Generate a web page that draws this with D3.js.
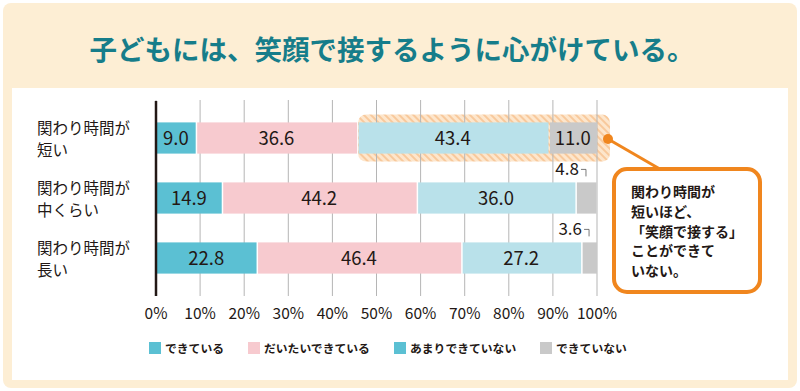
<!DOCTYPE html>
<html><head><meta charset="utf-8">
<script src="https://cdn.jsdelivr.net/npm/d3@7"></script>
<style>body{margin:0;background:#fff;}svg{display:block;font-family:"Noto Sans CJK JP","Noto Sans",sans-serif;}</style>
</head><body>
<script>
const title = "子どもには、笑顔で接するように心がけている。";
const categories = [["関わり時間が","短い"],["関わり時間が","中くらい"],["関わり時間が","長い"]];
const seriesNames = ["できている","だいたいできている","あまりできていない","できていない"];
const seriesColors = ["#5bc0d3","#f7cacf","#b9e1ea","#c9c9c9"];
const legendColors = ["#5bc0d3","#f7cacf","#5bc0d3","#c9c9c9"];
const values = [
  [9.0, 36.6, 43.4, 11.0],
  [14.9, 44.2, 36.0, 4.8],
  [22.8, 46.4, 27.2, 3.6]
];
const ticks = [0,10,20,30,40,50,60,70,80,90,100];
const calloutLines = ["関わり時間が","短いほど、","「笑顔で接する」","ことができて","いない。"];

const W=800,H=391;
const svg=d3.select("body").append("svg").attr("width",W).attr("height",H);
const defs=svg.append("defs");
const pat=defs.append("pattern").attr("id","hatch").attr("patternUnits","userSpaceOnUse").attr("width",5).attr("height",5).attr("patternTransform","rotate(-45)");
pat.append("rect").attr("width",5).attr("height",5).attr("fill","#fde6cc");
pat.append("rect").attr("width",2).attr("height",5).attr("fill","#f8c99c");

svg.append("rect").attr("x",3).attr("y",3).attr("width",794).attr("height",385).attr("rx",8).attr("fill","#fdeed4");
svg.append("rect").attr("x",12).attr("y",88).attr("width",776).attr("height",292).attr("fill","#fff");
svg.append("text").attr("x",392).attr("y",60).attr("text-anchor","middle").attr("font-size",27.5).attr("font-weight",700).attr("fill","#167d8a").text(title);

const x=d3.scaleLinear().domain([0,100]).range([156,597]);
const y=d3.scaleBand().domain(d3.range(categories.length)).range([108,288]).paddingInner(0.48).paddingOuter(0.24);

// highlight band behind row 0 last two segments
const s0=values[0][0]+values[0][1];
svg.append("rect").attr("x",x(s0)+1).attr("y",y(0)-8).attr("width",x(100)-x(s0)+12).attr("height",y.bandwidth()+16).attr("rx",8).attr("fill","url(#hatch)");

// gridlines
svg.append("g").selectAll("line").data(ticks).join("line")
  .attr("x1",d=>x(d)).attr("x2",d=>x(d)).attr("y1",100).attr("y2",296)
  .attr("stroke","#b5b5b5").attr("stroke-width",1);

// bars
const rows=svg.append("g").selectAll("g").data(values).join("g");
rows.each(function(row,i){
  let acc=0;
  const segs=row.map((v,j)=>{const s={v,j,x0:acc};acc+=v;return s;});
  const g=d3.select(this);
  g.selectAll("rect").data(segs).join("rect")
    .attr("x",d=>x(d.x0)+(d.j>0?1.5:0)).attr("y",y(i))
    .attr("width",d=>x(d.x0+d.v)-x(d.x0)-(d.j>0?1.5:0)).attr("height",y.bandwidth())
    .attr("fill",d=>seriesColors[d.j]);
  g.selectAll("text.v").data(segs.filter(d=>d.v>=8)).join("text").attr("class","v")
    .attr("x",d=>x(d.x0+d.v/2)).attr("y",y(i)+y.bandwidth()/2+6.5)
    .attr("text-anchor","middle").attr("font-size",18.5).attr("fill","#231815").text(d=>d.v.toFixed(1));
  segs.filter(d=>d.v<8).forEach(d=>{
    const cx=x(d.x0+d.v/2);
    g.append("text").attr("x",cx-7).attr("y",y(i)-7).attr("text-anchor","end").attr("font-size",17).attr("fill","#231815").text(d.v.toFixed(1));
    g.append("path").attr("d",`M${cx-5},${y(i)-13}H${cx}V${y(i)-6}`).attr("fill","none").attr("stroke","#555").attr("stroke-width",0.8);
  });
});

// axis line
svg.append("line").attr("x1",156).attr("x2",156).attr("y1",101).attr("y2",296).attr("stroke","#231815").attr("stroke-width",2.5);

// category labels
categories.forEach((c,i)=>{
  c.forEach((l,k)=>svg.append("text").attr("x",37).attr("y",y(i)+12+k*22).attr("font-size",15.5).attr("fill","#231815").text(l));
});

// ticks labels
svg.append("g").selectAll("text").data(ticks).join("text")
  .attr("x",d=>x(d)).attr("y",319).attr("text-anchor","middle").attr("font-size",15.5).attr("fill","#231815").text(d=>d+"%");

// legend
const legX=[149,248,394,540];
seriesNames.forEach((n,i)=>{
  svg.append("rect").attr("x",legX[i]).attr("y",342).attr("width",12).attr("height",12).attr("fill",legendColors[i]);
  svg.append("text").attr("x",legX[i]+16).attr("y",353).attr("font-size",11.8).attr("font-weight",700).attr("fill","#231815").text(n);
});

// callout
svg.append("line").attr("x1",608).attr("y1",139).attr("x2",665).attr("y2",172).attr("stroke","#f0861e").attr("stroke-width",3);
svg.append("circle").attr("cx",608).attr("cy",139).attr("r",5).attr("fill","#f0861e");
svg.append("rect").attr("x",614).attr("y",169).attr("width",146).attr("height",123).attr("rx",13).attr("fill","#fff").attr("stroke","#f0861e").attr("stroke-width",4);
calloutLines.forEach((l,k)=>svg.append("text").attr("x",631).attr("y",197+k*19.8).attr("font-size",14).attr("font-weight",700).attr("fill","#231815").text(l));
</script>
</body></html>
